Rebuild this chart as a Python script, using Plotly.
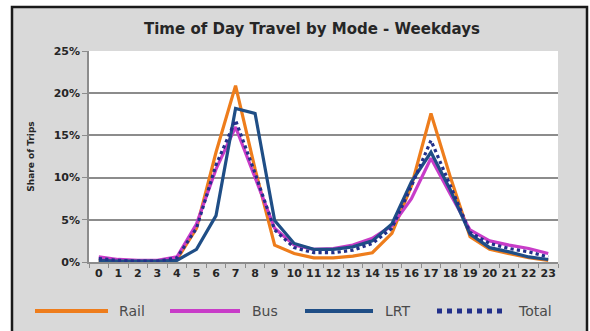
import plotly.graph_objects as go

# Share of weekday trips (%) by hour of day and mode
hours = [str(h) for h in range(24)]
rail = [0.2, 0.1, 0.1, 0.1, 0.3, 4.0, 13.0, 20.9, 11.0, 2.0, 1.0, 0.5,
        0.5, 0.7, 1.1, 3.4, 9.0, 17.6, 10.0, 3.0, 1.5, 1.0, 0.5, 0.2]
bus = [0.6, 0.3, 0.2, 0.2, 0.6, 4.5, 11.0, 16.0, 10.0, 4.0, 2.0, 1.5,
       1.6, 2.0, 2.8, 4.3, 7.5, 12.3, 8.0, 3.8, 2.5, 2.0, 1.6, 1.0]
lrt = [0.2, 0.1, 0.1, 0.1, 0.2, 1.5, 5.5, 18.2, 17.6, 4.9, 2.2, 1.5,
       1.5, 1.8, 2.5, 4.5, 9.5, 13.0, 8.5, 3.3, 1.7, 1.2, 0.6, 0.3]
total = [0.4, 0.2, 0.1, 0.1, 0.5, 4.0, 11.5, 16.8, 10.5, 3.8, 1.7, 1.1,
         1.1, 1.4, 2.2, 4.0, 9.0, 14.4, 9.0, 3.5, 2.2, 1.6, 1.2, 0.6]
y_ticks = [0, 5, 10, 15, 20, 25]

W, H = 590, 331
L, R, T, B = 89, 32, 51, 69
PW, PH = W - L - R, H - T - B


def px(x):
    return (x - L) / PW


def py(y):
    return (H - B - y) / PH


series = [
    ("Rail", rail, "#EE7D1C", "solid"),
    ("Bus", bus, "#C83CC8", "solid"),
    ("LRT", lrt, "#1F4E86", "solid"),
    ("Total", total, "#22308A", "dot"),
]

fig = go.Figure()
for name, vals, color, dash in series:
    fig.add_trace(go.Scatter(
        x=hours, y=vals, name=name, mode="lines",
        line=dict(color=color, width=3.2, dash=dash),
        showlegend=False,
    ))

shapes = [
    # grey chart area with dark frame
    dict(type="rect", xref="paper", yref="paper", layer="below",
         x0=px(12), x1=px(587), y0=py(7), y1=py(340),
         fillcolor="#D9D9D9", line=dict(color="#1A1A1A", width=2.5)),
    # white plot area
    dict(type="rect", xref="paper", yref="paper", layer="below",
         x0=0, x1=1, y0=0, y1=1, fillcolor="white", line=dict(width=0)),
]
annotations = []

# legend row along the bottom
legend_pos = [(35, 108, 117), (170, 240, 250), (305, 373, 383), (437, 502, 516)]
for (name, _, color, dash), (x0, x1, xt) in zip(series, legend_pos):
    shapes.append(dict(type="line", xref="paper", yref="paper",
                       x0=px(x0), x1=px(x1), y0=py(311), y1=py(311),
                       line=dict(color=color, width=4 if dash == "solid" else 5,
                                 dash=dash)))
    annotations.append(dict(text=name, xref="paper", yref="paper",
                            x=px(xt), y=py(311), xanchor="left", yanchor="middle",
                            showarrow=False,
                            font=dict(family="DejaVu Sans", size=14, color="#4A4A4A")))

fig.update_layout(
    width=W, height=H,
    margin=dict(l=L, r=R, t=T, b=B),
    paper_bgcolor="white",
    plot_bgcolor="white",
    title=dict(text="<b>Time of Day Travel by Mode - Weekdays</b>",
               x=312 / W, xanchor="center", y=1 - 29 / H, yanchor="middle",
               font=dict(family="DejaVu Sans", size=15, color="#262626")),
    xaxis=dict(
        type="category", range=[-0.5, 23.5],
        tickmode="array", tickvals=hours, ticktext=[f"<b>{h}</b>" for h in hours],
        tickson="boundaries", ticks="outside", ticklen=4, tickcolor="#8C8C8C",
        showgrid=False, showline=True, linecolor="#8C8C8C", linewidth=1.5,
        tickfont=dict(family="DejaVu Sans", size=11, color="#262626"),
        tickangle=0,
    ),
    yaxis=dict(
        range=[0, 25], tickvals=y_ticks,
        ticktext=[f"<b>{v}%</b>" for v in y_ticks],
        ticks="outside", ticklen=5, tickcolor="#8C8C8C",
        showgrid=True, gridcolor="#8C8C8C", gridwidth=1.8,
        showline=True, linecolor="#8C8C8C", linewidth=1.5,
        zeroline=False,
        tickfont=dict(family="DejaVu Sans", size=11, color="#262626"),
        title=dict(text="<b>Share of Trips</b>", standoff=18,
                   font=dict(family="DejaVu Sans", size=9, color="#262626")),
    ),
    shapes=shapes,
    annotations=annotations,
)

fig.write_html("out.html")
